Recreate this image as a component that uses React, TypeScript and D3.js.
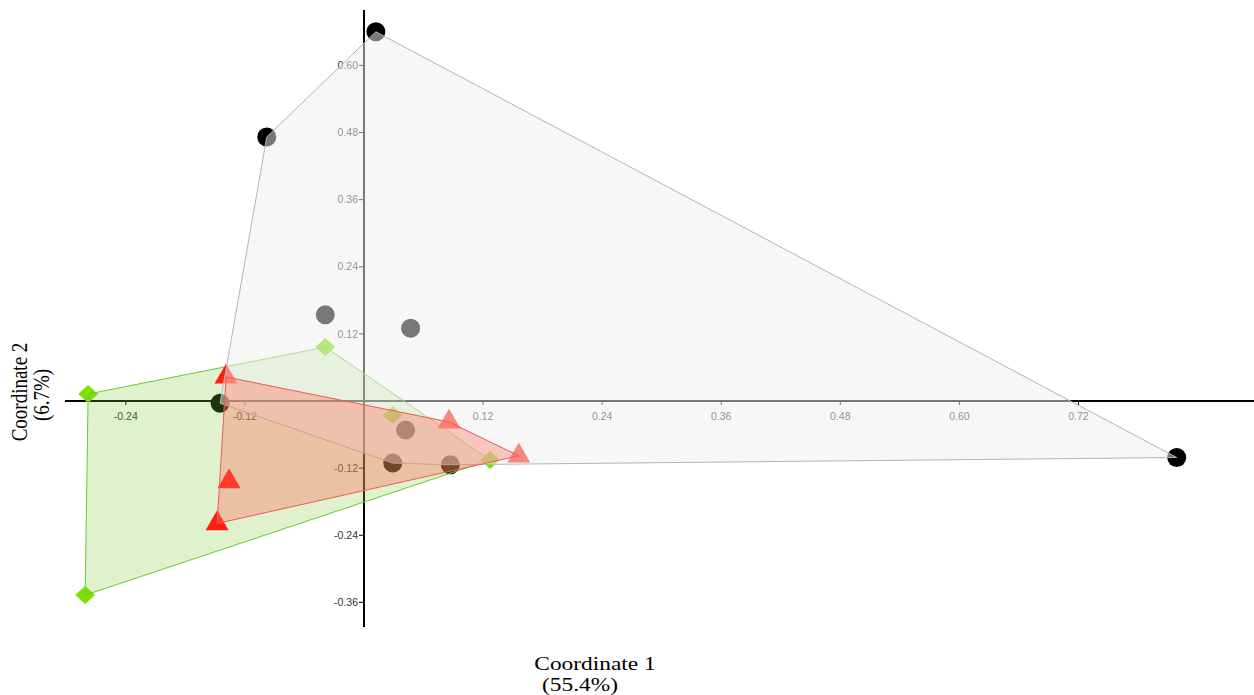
import React from 'react';
import * as d3 from 'd3';

// PCoA scores, one array per group
const circlePts: [number, number][] = [
  [0.012, 0.66],
  [-0.098, 0.472],
  [-0.039, 0.154],
  [0.047, 0.13],
  [-0.145, -0.004],
  [0.042, -0.052],
  [0.029, -0.111],
  [0.087, -0.114],
  [0.819, -0.101],
];
const trianglePts: [number, number][] = [
  [-0.139, 0.043],
  [0.0857, -0.0375],
  [0.156, -0.098],
  [-0.136, -0.144],
  [-0.148, -0.219],
];
const diamondPts: [number, number][] = [
  [-0.278, 0.0125],
  [-0.039, 0.0965],
  [0.029, -0.025],
  [0.127, -0.1055],
  [-0.281, -0.347],
];

const xTicks = [-0.24, -0.12, 0.12, 0.24, 0.36, 0.48, 0.6, 0.72];
const yTicks = [-0.36, -0.24, -0.12, 0.12, 0.24, 0.36, 0.48, 0.6];
const xTitle = ['Coordinate 1', '(55.4%)'];
const yTitle = ['Coordinate 2', '(6.7%)'];

const W = 1254;
const H = 695;

const x = d3.scaleLinear().domain([-0.3013, 0.8969]).range([65, 1254]);
const y = d3.scaleLinear().domain([0.699, -0.404]).range([10, 627]);

const fmt = (v: number) => v.toFixed(2);

const hullPath = (pts: [number, number][]) => {
  const hull = d3.polygonHull(pts.map(([a, b]) => [x(a), y(b)] as [number, number]));
  return hull ? 'M' + hull.map((p) => p.join(',')).join('L') + 'Z' : '';
};

const triPath = d3.symbol(d3.symbolTriangle, 229)() || '';
const diamondPath = 'M0,-9L10,0L0,9L-10,0Z';

export default function App() {
  const x0 = x(0);
  const y0 = y(0);
  const tickFont = '"Liberation Sans", Arial, sans-serif';
  const titleFont = '"Liberation Serif", "Times New Roman", serif';

  return (
    <svg
      width={W}
      height={H}
      style={{ position: 'absolute', left: 0, top: 0, background: '#fff' }}
    >
      {/* axes through the origin */}
      <g stroke="#000">
        <line x1={65} x2={W} y1={y0} y2={y0} strokeWidth={2} />
        <line x1={x0} x2={x0} y1={10} y2={627} strokeWidth={2} />
        {xTicks.map((t) => (
          <line key={'xt' + t} x1={x(t)} x2={x(t)} y1={y0} y2={y0 + 4} strokeWidth={1} />
        ))}
        {yTicks.map((t) => (
          <line key={'yt' + t} x1={x0 - 5} x2={x0} y1={y(t)} y2={y(t)} strokeWidth={1} />
        ))}
      </g>
      <g fill="#333" fontFamily={tickFont} fontSize={10.5}>
        {xTicks.map((t) => (
          <text key={'xl' + t} x={x(t)} y={y0 + 19} textAnchor="middle">
            {fmt(t)}
          </text>
        ))}
        {yTicks.map((t) => (
          <text key={'yl' + t} x={x0 - 6} y={y(t)} dy="0.35em" textAnchor="end">
            {fmt(t)}
          </text>
        ))}
      </g>

      {/* circles and diamonds sit under the hulls */}
      <g>
        {diamondPts.map(([a, b], i) => (
          <path key={'d' + i} d={diamondPath} transform={`translate(${x(a)},${y(b)})`} fill="#80e000" />
        ))}
        {circlePts.map(([a, b], i) => (
          <circle key={'c' + i} cx={x(a)} cy={y(b)} r={9.5} fill="#000" />
        ))}
      </g>

      <path d={hullPath(diamondPts)} fill="rgb(130,200,60)" fillOpacity={0.25} stroke="#66cc33" strokeWidth={1} />

      <g>
        {trianglePts.map(([a, b], i) => (
          <path key={'t' + i} d={triPath} transform={`translate(${x(a)},${y(b)})`} fill="#ff1e10" />
        ))}
      </g>

      <path d={hullPath(circlePts)} fill="#f0f0f0" fillOpacity={0.5} stroke="#b4b4b4" strokeWidth={1} />
      <path d={hullPath(trianglePts)} fill="rgb(255,110,90)" fillOpacity={0.37} stroke="#ee5a5a" strokeWidth={1} />

      {/* axis titles */}
      <g fill="#000" fontFamily={titleFont} fontSize={19}>
        <text transform="translate(595,670) scale(1.23,1)" textAnchor="middle">
          {xTitle[0]}
        </text>
        <text transform="translate(580,691) scale(1.23,1)" textAnchor="middle">
          {xTitle[1]}
        </text>
        <text transform="translate(26.5,392) scale(1.23,1) rotate(-90)" textAnchor="middle">
          {yTitle[0]}
        </text>
        <text transform="translate(49,395) scale(1.23,1) rotate(-90)" textAnchor="middle">
          {yTitle[1]}
        </text>
      </g>
    </svg>
  );
}
